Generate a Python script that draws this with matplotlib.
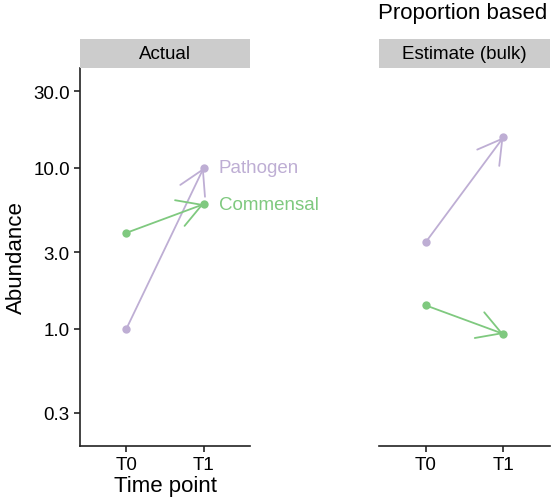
import matplotlib
matplotlib.use("Agg")
import matplotlib.pyplot as plt
import numpy as np

plt.rcParams['font.family'] = ['Liberation Sans', 'DejaVu Sans']

# data
time_points = ['T0', 'T1']
panels = ['Actual', 'Estimate (bulk)']
taxa = ['Pathogen', 'Commensal']
colors = {'Pathogen': '#BEAED4', 'Commensal': '#7FC97F'}

actual_pathogen = [1.0, 10.0]
actual_commensal = [3.95, 5.95]
bulk_pathogen = [3.45, 15.5]
bulk_commensal = [1.4, 0.93]

values = {
    'Actual': {'Pathogen': actual_pathogen, 'Commensal': actual_commensal},
    'Estimate (bulk)': {'Pathogen': bulk_pathogen, 'Commensal': bulk_commensal},
}
ytick_vals = [0.3, 1.0, 3.0, 10.0, 30.0]

W, H = 554, 502
fig = plt.figure(figsize=(W / 100, H / 100), dpi=100)

def box(x0, y0, x1, y1):
    # pixel box (top-left origin) -> figure fraction
    return [x0 / W, 1 - y1 / H, (x1 - x0) / W, (y1 - y0) / H]

axes_px = [(80, 69, 250, 447), (379, 69, 550, 447)]

for i, panel in enumerate(panels):
    x0, y0, x1, y1 = axes_px[i]
    ax = fig.add_axes(box(x0, y0, x1, y1))
    ax.set_yscale('log')
    ax.set_ylim(0.187, 41.8)
    ax.set_xlim(-0.6, 1.6)
    xs = np.arange(len(time_points))

    for taxon in taxa:
        v = values[panel][taxon]
        c = colors[taxon]
        ax.annotate('', xy=(xs[1], v[1]), xytext=(xs[0], v[0]),
                    arrowprops=dict(arrowstyle='->,head_length=1.0,head_width=0.58',
                                    color=c, lw=1.3, shrinkA=0, shrinkB=0,
                                    mutation_scale=17))
        ax.scatter(xs, v, s=36, color=c, zorder=3, linewidths=0)
        if panel == 'Actual':
            ax.annotate(taxon, xy=(xs[1], v[1]), xytext=(15, 0),
                        textcoords='offset pixels', color=c, fontsize=13.5,
                        va='center', ha='left', annotation_clip=False)

    ax.set_xticks(xs)
    ax.set_xticklabels(time_points, fontsize=13.5)
    ax.minorticks_off()
    for s in ['top', 'right']:
        ax.spines[s].set_visible(False)
    ax.spines['bottom'].set_linewidth(1.2)
    ax.spines['left'].set_linewidth(1.2)
    ax.spines['bottom'].set_color('#222222')
    ax.spines['left'].set_color('#222222')
    ax.tick_params(axis='x', length=4.3, width=1.2, pad=3, color='#222222')
    if i == 0:
        ax.set_yticks(ytick_vals)
        ax.set_yticklabels(['%.1f' % t for t in ytick_vals], fontsize=13.5)
        ax.tick_params(axis='y', length=4.3, width=1.2, pad=3, color='#222222')
        ax.set_xlabel('Time point', fontsize=16, labelpad=1)
    else:
        ax.set_yticks([])
        ax.spines['left'].set_visible(False)

    sax = fig.add_axes(box(x0, 40, x1, 69))
    sax.set_xticks([])
    sax.set_yticks([])
    sax.set_facecolor('#CCCCCC')
    for s in sax.spines.values():
        s.set_visible(False)
    sax.text(0.5, 0.5, panel, ha='center', va='center', fontsize=13.5,
             transform=sax.transAxes)

fig.text(16 / W, 1 - 258 / H, 'Abundance', fontsize=16, rotation=90,
         ha='center', va='center')
fig.text(378 / W, 1 - 13 / H, 'Proportion based', fontsize=16, ha='left', va='center')

fig.savefig('out.png', dpi=100)
